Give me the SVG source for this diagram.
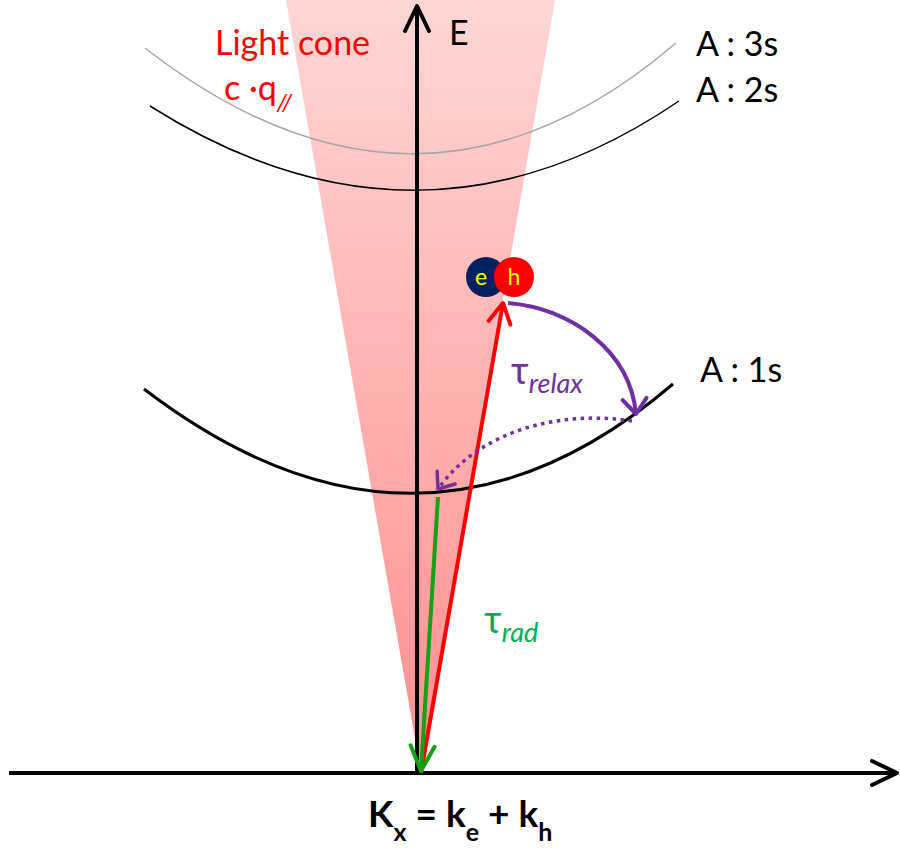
<svg xmlns="http://www.w3.org/2000/svg" width="900" height="849" viewBox="0 0 900 849">
<defs>
<style>
text{font-family:Lato,"Open Sans","Liberation Sans",sans-serif}
.lbl{font-size:34px;fill:#000}
.red{fill:#ff0000}
.tau{font-size:38px}
.sub{font-size:27px;font-style:italic}
.ax{stroke:#000;stroke-width:4;fill:none}
.lvl{fill:none}
</style>
<linearGradient id="cone" x1="0" y1="0" x2="0" y2="1">
<stop offset="0" stop-color="#ffd6d6"/>
<stop offset="1" stop-color="#ff8e8e"/>
</linearGradient>
<marker id="mk-black" viewBox="-30 -15 35 30" refX="0" refY="0" markerWidth="35" markerHeight="30" markerUnits="userSpaceOnUse" orient="auto" overflow="visible">
<path d="M-25,-12 L0,0 L-25,12" fill="none" stroke="#000" stroke-width="4" stroke-linecap="round" stroke-linejoin="round"/>
</marker>
<marker id="mk-red" viewBox="-30 -15 35 30" refX="0" refY="0" markerWidth="35" markerHeight="30" markerUnits="userSpaceOnUse" orient="auto" overflow="visible">
<path d="M-20,-11 L0,0 L-20,11" fill="none" stroke="#ff0000" stroke-width="4" stroke-linecap="round" stroke-linejoin="round"/>
</marker>
<marker id="mk-green" viewBox="-30 -15 35 30" refX="0" refY="0" markerWidth="35" markerHeight="30" markerUnits="userSpaceOnUse" orient="auto" overflow="visible">
<path d="M-25,-12 L0,0 L-25,12" fill="none" stroke="#16a016" stroke-width="4" stroke-linecap="round" stroke-linejoin="round"/>
</marker>
<marker id="mk-purple" viewBox="-30 -15 35 30" refX="0" refY="0" markerWidth="35" markerHeight="30" markerUnits="userSpaceOnUse" orient="auto" overflow="visible">
<path d="M-15,-12 L0,0 L-15,12" fill="none" stroke="#7030a0" stroke-width="4" stroke-linecap="round" stroke-linejoin="round"/>
</marker>
<marker id="mk-purple-s" viewBox="-30 -15 35 30" refX="0" refY="0" markerWidth="35" markerHeight="30" markerUnits="userSpaceOnUse" orient="auto" overflow="visible">
<path d="M-14,-11 L0,0 L-14,11" fill="none" stroke="#7030a0" stroke-width="3.5" stroke-linecap="round" stroke-linejoin="round"/>
</marker>
</defs>
<rect width="900" height="849" fill="#fff"/>

<g id="light-cone">
<polygon points="286,0 555,0 421,773" fill="url(#cone)"/>
<text x="215" y="55" class="lbl red" font-size="35">Light cone</text>
<text x="224" y="100" class="lbl red" font-size="35">c ·q<tspan font-size="24" font-style="italic" dy="11">//</tspan></text>
</g>

<g id="level-3s">
<path class="lvl" d="M145,48 Q420,262 676,43" stroke="#a6a6a6" stroke-width="1.5"/>
<text x="696" y="56" class="lbl">A : 3s</text>
</g>
<g id="level-2s">
<path class="lvl" d="M150,106 Q420,277 679,101" stroke="#000" stroke-width="1.5"/>
<text x="696" y="102" class="lbl">A : 2s</text>
</g>
<g id="level-1s">
<path class="lvl" d="M144,389 Q420,600 673,384" stroke="#000" stroke-width="3"/>
<text x="700" y="382" class="lbl">A : 1s</text>
</g>

<g id="axes">
<line class="ax" x1="417" y1="773" x2="417" y2="6" marker-end="url(#mk-black)"/>
<line class="ax" x1="9" y1="773" x2="897" y2="773" marker-end="url(#mk-black)"/>
<text x="449" y="45" class="lbl" font-size="35">E</text>
<text x="368" y="827" font-size="37" font-weight="bold">K<tspan font-size="25" dy="14">x</tspan><tspan dy="-14"> = k</tspan><tspan font-size="25" dy="14">e</tspan><tspan dy="-14"> + k</tspan><tspan font-size="25" dy="14">h</tspan></text>
</g>

<g id="connectors">
<line x1="421" y1="773" x2="503" y2="303" stroke="#ff0000" stroke-width="4" marker-end="url(#mk-red)"/>
<line x1="438" y1="497" x2="421" y2="771" stroke="#16a016" stroke-width="4" marker-end="url(#mk-green)"/>
<path d="M508,303 C570,308 630,350 636,414" fill="none" stroke="#7030a0" stroke-width="4" marker-end="url(#mk-purple)"/>
<path d="M632,421 C560,410 480,430 438,489" fill="none" stroke="#7030a0" stroke-width="3.5" stroke-dasharray="3.5 4.5" marker-end="url(#mk-purple-s)"/>
</g>

<g id="exciton">
<circle cx="486" cy="277" r="20" fill="#002060"/>
<circle cx="514" cy="277" r="20" fill="#ff0000"/>
<text x="481" y="285" font-size="23" fill="#ffff00" text-anchor="middle">e</text>
<text x="514" y="285" font-size="23" fill="#ffff00" text-anchor="middle">h</text>
</g>

<g id="label-relax">
<text x="511" y="384" class="tau" fill="#7030a0">τ<tspan class="sub" dy="9">relax</tspan></text>
</g>
<g id="label-rad">
<text x="484" y="633" class="tau" fill="#00b050">τ<tspan class="sub" dy="9">rad</tspan></text>
</g>
</svg>
